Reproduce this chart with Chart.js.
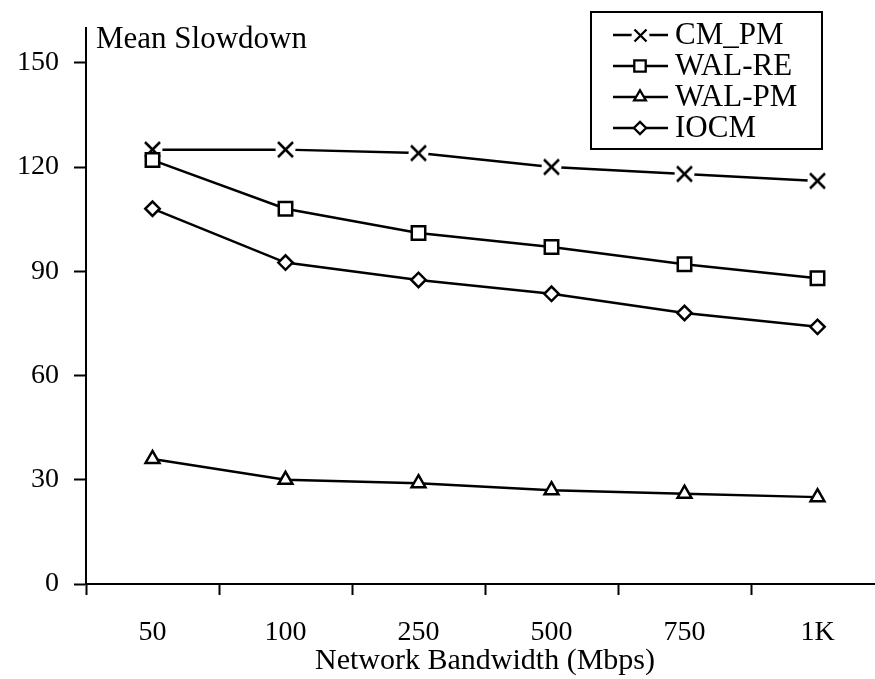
<!DOCTYPE html>
<html><head><meta charset="utf-8">
<script src="https://cdn.jsdelivr.net/npm/chart.js@4/dist/chart.umd.min.js"></script>
<style>
html,body{margin:0;padding:0;background:#fff;width:875px;height:679px;overflow:hidden}
#clip{position:relative;width:875px;height:679px;overflow:hidden}
#c{display:block;width:885px;height:679px}
</style></head>
<body><div id="clip"><canvas id="c" width="885" height="679" style="width:885px;height:679px"></canvas></div>
<script>
const categories = ['50','100','250','500','750','1K'];
const seriesNames = ['CM_PM','WAL-RE','WAL-PM','IOCM'];
const cmPm  = [125,125,124,120,118,116];
const walRe = [122,108,101,97,92,88];
const walPm = [36,30,29,27,26,25];
const iocm  = [108,92.5,87.5,83.5,78,74];
const yTicks = [0,30,60,90,120,150];
const yMax = 160;
const yTitle = 'Mean Slowdown';
const xTitle = 'Network Bandwidth (Mbps)';

const FONT = '"Liberation Serif", "Times New Roman", serif';
const LW = 2.5;

function crossImg(size, arm, gapR, lw){
  const c = document.createElement('canvas'); c.width = c.height = size;
  const g = c.getContext('2d'); const m = size/2;
  g.fillStyle = '#fff'; g.beginPath(); g.arc(m,m,gapR,0,2*Math.PI); g.fill();
  g.strokeStyle = '#000'; g.lineWidth = lw; g.beginPath();
  g.moveTo(m-arm,m-arm); g.lineTo(m+arm,m+arm);
  g.moveTo(m+arm,m-arm); g.lineTo(m-arm,m+arm); g.stroke();
  return c;
}
const crossChart = crossImg(23, 7.5, 10, LW);
const crossLegend = crossImg(19, 6, 9, 2.3);

function mk(label, data, style, r, order, legendImg){
  return {label, data, order, borderColor:'#000', borderWidth:LW, tension:0,
    pointStyle:style, pointRadius:r, pointHoverRadius:r, pointBorderWidth:LW,
    pointBackgroundColor:'#fff', pointBorderColor:'#000', fill:false, clip:false, legendImg};
}

function legendMarker(ctx, style, r, x, y){
  ctx.save(); ctx.fillStyle='#fff'; ctx.strokeStyle='#000'; ctx.lineWidth=2.3;
  ctx.beginPath();
  if (style === 'rect') { const s = r*Math.SQRT1_2; ctx.rect(x-s,y-s,2*s,2*s); }
  else if (style === 'rectRot') { ctx.moveTo(x,y-r); ctx.lineTo(x+r,y); ctx.lineTo(x,y+r); ctx.lineTo(x-r,y); ctx.closePath(); }
  else if (style === 'triangle') {
    for (let k=0;k<3;k++){ const a = k*2*Math.PI/3; const px = x + Math.sin(a)*r, py = y - Math.cos(a)*r; k?ctx.lineTo(px,py):ctx.moveTo(px,py); }
    ctx.closePath();
  }
  ctx.fill(); ctx.stroke(); ctx.restore();
}

const overlay = {
  id:'overlay',
  afterDraw(chart){
    const ctx = chart.ctx; ctx.save();
    ctx.strokeStyle='#000'; ctx.lineWidth=2;
    ctx.strokeRect(591,12,231,137);
    [0,1,2,3].forEach((i,row)=>{
      const ds = chart.data.datasets[i];
      const y = 35 + row*31;
      ctx.beginPath(); ctx.moveTo(613,y); ctx.lineTo(668,y); ctx.lineWidth=2.3; ctx.strokeStyle='#000'; ctx.stroke();
      if (ds.legendImg) ctx.drawImage(ds.legendImg, Math.round(640-ds.legendImg.width/2), Math.round(y-ds.legendImg.height/2));
      else legendMarker(ctx, ds.pointStyle, ds.pointRadius*0.85, 640, y);
      ctx.fillStyle='#000'; ctx.font='31px '+FONT; ctx.textBaseline='middle'; ctx.textAlign='left';
      ctx.fillText(ds.label, 675, y+1);
    });
    ctx.fillStyle='#000'; ctx.font='31px '+FONT; ctx.textBaseline='alphabetic'; ctx.textAlign='left';
    ctx.fillText(yTitle, 96, 48);
    ctx.restore();
  }
};

new Chart(document.getElementById('c'), {
  type:'line',
  data:{
    labels: categories,
    datasets:[
      mk(seriesNames[0], cmPm, crossChart, 9, 3, crossLegend),
      mk(seriesNames[1], walRe, 'rect', 9.5, 0),
      mk(seriesNames[2], walPm, 'triangle', 8, 2),
      mk(seriesNames[3], iocm, 'rectRot', 7.2, 1)
    ]
  },
  options:{
    responsive:false, animation:false,
    layout:{autoPadding:false, padding:{top:28,left:0,right:1,bottom:0}},
    plugins:{legend:{display:false}, tooltip:{enabled:false}},
    scales:{
      x:{
        type:'category', offset:true,
        grid:{offset:true, drawOnChartArea:false, drawTicks:true, tickLength:11, tickWidth:2, tickColor:'#000'},
        border:{display:true, color:'#000', width:2},
        ticks:{color:'#000', font:{family:FONT, size:28}, padding:21, maxRotation:0, autoSkip:false},
        title:{display:true, text:xTitle, color:'#000', font:{family:FONT, size:30}, padding:{top:0,bottom:0}},
        afterFit(s){ s.height = 95; s.paddingLeft = 0; s.paddingRight = 0; }
      },
      y:{
        min:0, max:yMax,
        afterBuildTicks(s){ s.ticks = yTicks.map(v=>({value:v})); },
        grid:{drawOnChartArea:false, drawTicks:true, tickLength:12, tickWidth:2, tickColor:'#000'},
        border:{display:true, color:'#000', width:2},
        ticks:{color:'#000', font:{family:FONT, size:28}, padding:15},
        afterFit(s){ s.width = 86; s.paddingTop = 0; s.paddingBottom = 0; }
      }
    }
  },
  plugins:[overlay]
});
</script>
</body></html>
